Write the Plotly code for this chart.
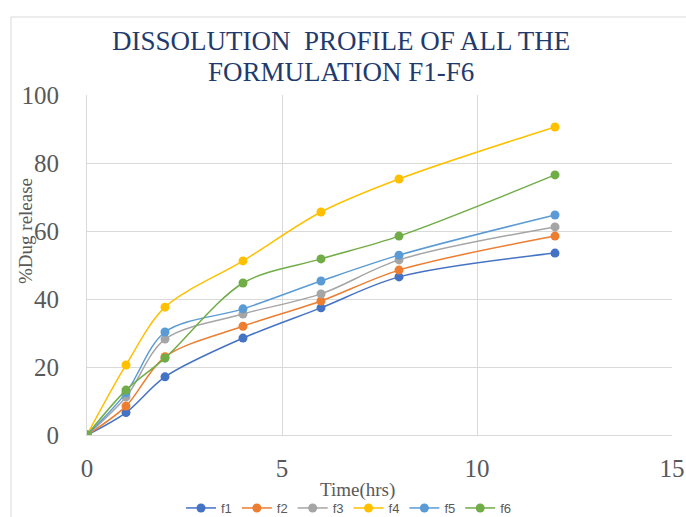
import plotly.graph_objects as go

time_hrs = [0, 1, 2, 4, 6, 8, 12]
f1 = [0, 6.6, 17.1, 28.5, 37.4, 46.5, 53.5]
f2 = [0, 8.5, 23.0, 32.0, 39.4, 48.5, 58.5]
f3 = [0, 11.2, 28.2, 35.6, 41.5, 51.5, 61.2]
f4 = [0, 20.6, 37.6, 51.2, 65.6, 75.3, 90.6]
f5 = [0, 12.4, 30.3, 37.1, 45.3, 52.9, 64.7]
f6 = [0, 13.2, 22.6, 44.7, 51.8, 58.5, 76.5]
series_names = ["f1", "f2", "f3", "f4", "f5", "f6"]
series_values = [f1, f2, f3, f4, f5, f6]
colors = ["#4472C4", "#ED7D31", "#A5A5A5", "#FFC000", "#5B9BD5", "#70AD47"]
x_ticks = [0, 5, 10, 15]
y_ticks = [0, 20, 40, 60, 80, 100]

W, H = 686, 517
L, R, T, B = 87, 14, 95, 82
pw, ph = W - L - R, H - T - B

def px2x(px):
    return (px - L) / pw

def py2y(py):
    return (H - B - py) / ph

fig = go.Figure()
for name, vals, c in zip(series_names, series_values, colors):
    fig.add_trace(go.Scatter(
        x=time_hrs, y=vals, name=name, mode="lines+markers",
        line=dict(color=c, width=1.5, shape="spline", smoothing=0.9),
        marker=dict(color=c, size=9),
    ))

serif = "Liberation Serif"
fig.update_layout(
    width=W, height=H,
    margin=dict(l=L, r=R, t=T, b=B, autoexpand=False),
    paper_bgcolor="white", plot_bgcolor="white",
    showlegend=True,
    legend=dict(orientation="h", xref="container", yref="container",
                x=349 / W, xanchor="center",
                y=(H - 508) / H, yanchor="middle",
                font=dict(family="Liberation Sans", size=13, color="#595959"),
                itemwidth=30, tracegroupgap=0, bgcolor="rgba(0,0,0,0)"),
    xaxis=dict(range=[0, 15], tickvals=x_ticks, showgrid=True, gridcolor="#D9D9D9",
               gridwidth=1, zeroline=False, showline=True, linecolor="#D9D9D9",
               tickfont=dict(family=serif, size=25, color="#595959"),
               ticks="", ticklabelstandoff=11, fixedrange=True, automargin=False),
    yaxis=dict(range=[0, 100], tickvals=y_ticks, showgrid=True, gridcolor="#D9D9D9",
               gridwidth=1, zeroline=False, showline=True, linecolor="#D9D9D9",
               tickfont=dict(family=serif, size=25, color="#595959"),
               ticks="", ticklabelstandoff=22, fixedrange=True, automargin=False),
    annotations=[
        dict(text="DISSOLUTION  PROFILE OF ALL THE", x=px2x(341), y=py2y(41),
             xref="paper", yref="paper", showarrow=False, xanchor="center", yanchor="middle",
             font=dict(family=serif, size=27, color="#1F3B6E")),
        dict(text="FORMULATION F1-F6", x=px2x(341), y=py2y(72),
             xref="paper", yref="paper", showarrow=False, xanchor="center", yanchor="middle",
             font=dict(family=serif, size=27, color="#1F3B6E")),
        dict(text="Time(hrs)", x=px2x(357), y=py2y(490),
             xref="paper", yref="paper", showarrow=False, xanchor="center", yanchor="middle",
             font=dict(family=serif, size=19, color="#595959")),
        dict(text="%Dug release", x=px2x(25), y=py2y(231), textangle=-90,
             xref="paper", yref="paper", showarrow=False, xanchor="center", yanchor="middle",
             font=dict(family=serif, size=19, color="#595959")),
    ],
    shapes=[dict(type="rect", xref="paper", yref="paper",
                 x0=px2x(11), x1=px2x(720), y0=py2y(17), y1=py2y(560),
                 line=dict(color="#D9D9D9", width=1), fillcolor="rgba(0,0,0,0)", layer="below")],
)

fig.write_html("out.html")
